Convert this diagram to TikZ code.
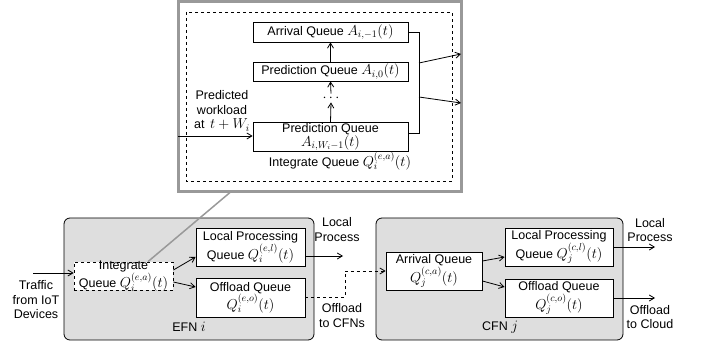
\documentclass[tikz,border=0pt]{standalone}
\usepackage{fontspec}
\setmainfont{Liberation Sans}
\DeclareMathSizes{12.5}{14.4}{10}{7}
\usetikzlibrary{arrows.meta,calc}
\begin{document}
\begin{tikzpicture}[x=1pt,y=-1pt,
  every node/.style={font=\fontsize{12.5}{14.5}\selectfont, inner sep=1pt},
  qbox/.style={draw, fill=white, line width=0.8pt, align=center, inner sep=1pt},
  conn/.style={line width=0.8pt, -{Straight Barb[length=5pt,width=6pt]}},
  plainline/.style={line width=0.8pt},
  nodebg/.style={draw, line width=0.8pt, fill=black!13, rounded corners=6pt},
  lbl/.style={align=center}
]
\useasboundingbox (0,0) rectangle (702,347);
% ---------- zoomed integrate queue ----------
\draw[black!40, line width=2.5pt] (178.5,1.5) rectangle (461.5,191.5);
\draw[dashed, line width=0.8pt] (186,12) rectangle (452,181);
\node[qbox, minimum width=155pt, minimum height=20pt] (arrQ) at (330.5,32) {Arrival Queue $A_{i,-1}(t)$};
\node[qbox, minimum width=155pt, minimum height=19pt] (predQ0) at (330.5,71.5) {Prediction Queue $A_{i,0}(t)$};
\node (dots) at (331,98) {$\cdots$};
\node[qbox, minimum width=155pt, minimum height=29pt, inner ysep=1pt] (predQW) at (330.5,137) {Prediction Queue\\[-1pt]$A_{i,W_i-1}(t)$};
\draw[conn] (predQW.north) -- (dots.south);
\draw[conn] (dots.north) -- (predQ0.south);
\draw[conn] (predQ0.north) -- (arrQ.south);
\draw[plainline] (arrQ.east) -| (419,133) -- ($(predQW.east)+(0,-4)$);
\coordinate (o1s) at (419,63);
\coordinate (o1e) at (461,54);
\coordinate (o2s) at (419,97);
\coordinate (o2e) at (461,103);
\draw[conn] (o1s) -- (o1e);
\draw[conn] (o2s) -- (o2e);
\coordinate (pin) at (178,136);
\draw[conn] (pin) -- (pin -| predQW.west);
\node[lbl] (predlbl) at (222,111) {Predicted\\workload\\at\, $t+W_i$};
\node (intlbl) at (340,161) {Integrate Queue $Q_i^{(e,a)}(t)$};
% ---------- EFN ----------
\draw[nodebg] (64,218) rectangle (314,340);
\node[qbox, dashed, minimum width=99pt, minimum height=28pt, inner ysep=-3.5pt] (intQ) at (123.5,276) {Integrate\\Queue $Q_i^{(e,a)}(t)$};
\node[qbox, minimum width=109pt, minimum height=38pt] (lpQ) at (250.5,247) {Local Processing\\Queue $Q_i^{(e,l)}(t)$};
\node[qbox, minimum width=109pt, minimum height=39pt] (offQ) at (250.5,297.5) {Offload Queue\\$Q_i^{(e,o)}(t)$};
\node (efn) at (189,327) {EFN $i$};
\node[lbl] (traffic) at (36,300) {Traffic\\from IoT\\Devices};
\coordinate (tin) at (33,273);
\draw[conn] (tin) -- (tin -| intQ.west);
\draw[conn] ($(intQ.east)+(0,-6)$) -- ($(lpQ.west)+(0,10)$);
\draw[conn] ($(intQ.east)+(0,6)$) -- ($(offQ.west)+(0,-10.5)$);
\coordinate (lpout) at (343,256);
\draw[conn] (lpQ.east |- lpout) -- (lpout);
\node[lbl] (lplbl) at (337,229.5) {Local\\Process};
\node[lbl] (offlbl) at (342,315.5) {Offload\\to CFNs};
% link to zoom
\draw[black!40, line width=1.5pt] ($(intQ.north)+(24.5,0)$) -- (230,192.5);
% ---------- CFN ----------
\draw[nodebg] (376,218) rectangle (623,340);
\node[qbox, minimum width=96pt, minimum height=38pt] (arrQc) at (434,271) {Arrival Queue\\$Q_j^{(c,a)}(t)$};
\node[qbox, minimum width=108pt, minimum height=38pt] (lpQc) at (559,247) {Local Processing\\Queue $Q_j^{(c,l)}(t)$};
\node[qbox, minimum width=108pt, minimum height=38pt] (offQc) at (559,298) {Offload Queue\\$Q_j^{(c,o)}(t)$};
\node (cfn) at (500,327) {CFN $j$};
\draw[conn, dashed] (offQ.east) -- (345,297.5) -- (345,271) -- (arrQc.west);
\draw[conn] ($(arrQc.east)+(0,-10)$) -- ($(lpQc.west)+(0,10)$);
\draw[conn] ($(arrQc.east)+(0,10)$) -- ($(offQc.west)+(0,-11)$);
\coordinate (lpcout) at (655,247);
\coordinate (offcout) at (655,298);
\draw[conn] (lpQc.east) -- (lpcout);
\draw[conn] (offQc.east) -- (offcout);
\node[lbl] (lpclbl) at (650,230) {Local\\Process};
\node[lbl] (offclbl) at (650,317) {Offload\\to Cloud};
\end{tikzpicture}
\end{document}
